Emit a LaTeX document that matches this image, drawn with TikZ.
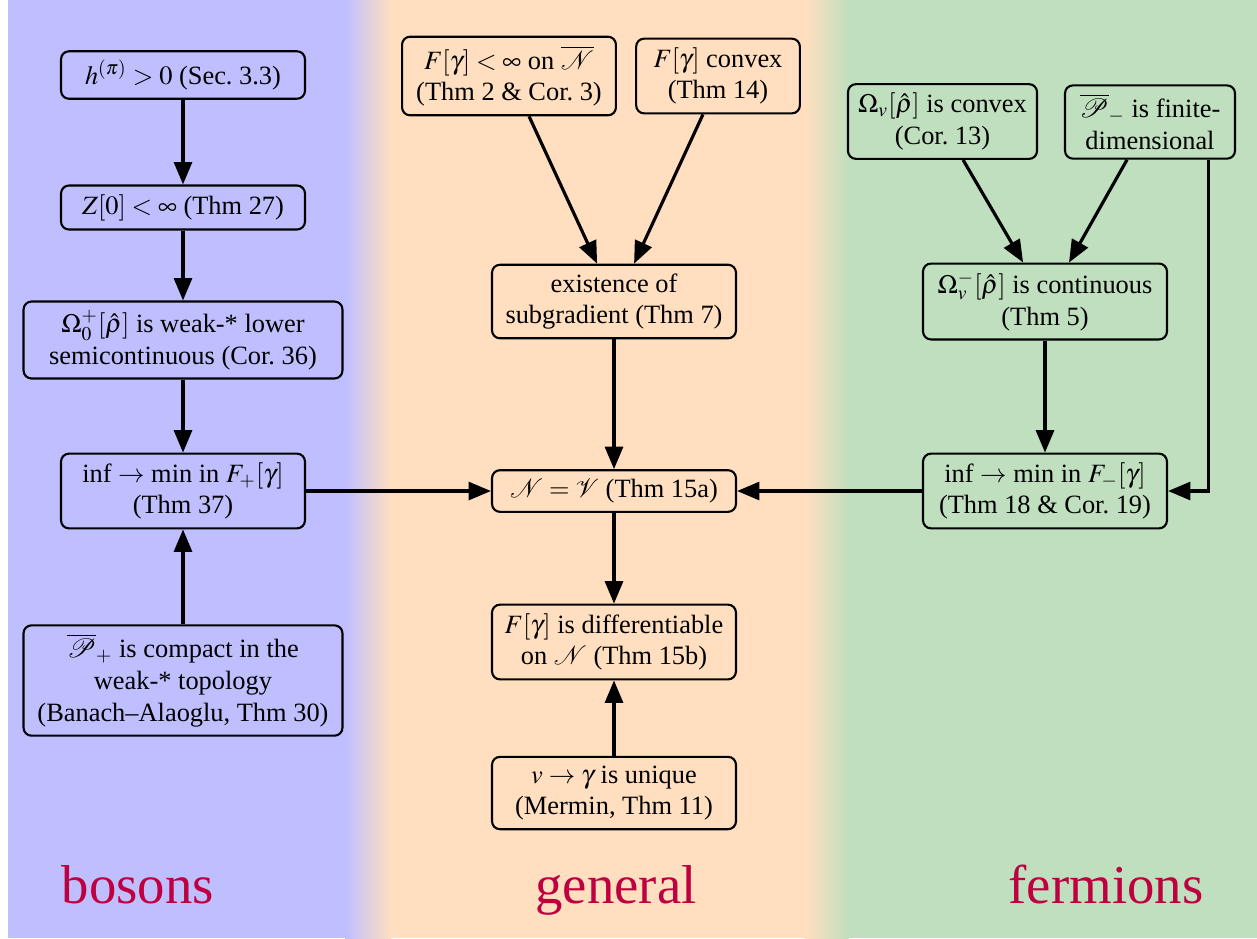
\documentclass[tikz,border=0pt]{standalone}
\usepackage{amsmath}
\usepackage{mathptmx}
\usepackage{fontspec}
\setmainfont{Liberation Serif}
\usetikzlibrary{arrows.meta}

\tikzset{
  thm/.style={draw, thick, rounded corners=3pt, align=center,
              minimum width=92.4pt, minimum height=15.5pt},
  arr/.style={-{Triangle[length=8.5pt,width=6.8pt]}, line width=1.2pt}
}

\begin{document}
\begin{tikzpicture}[
    x=0.3788pt, y=-0.3788pt]

      % background
      \useasboundingbox (0,0) rectangle (1257,938);
      \fill[white] (0,0) rectangle (1257,938);
      \fill[blue!25] (8,0) rectangle (346,938);
      \shade[left color=blue!25, right color=orange!25] (345,0) rectangle (391,938);
      \fill[orange!25] (390,0) rectangle (806,938);
      \shade[left color=orange!25, right color=green!50!black!25] (805,0) rectangle (849,938);
      \fill[green!50!black!25] (848,0) rectangle (1257,938);

      % bosons
      \node[thm] (hpos) at (183,75) {$h^{(\pi)} > 0$ (Sec.~3.3)};
      \node[thm] (Zfin) at (183,207.5) {$Z[0] < \infty$ (Thm~27)};
      \node[thm, minimum width=120.8pt] (Omlsc) at (183,340)
        {$\Omega_0^+[\hat\rho]$ is weak-* lower\\semicontinuous (Cor.~36)};
      \node[thm] (infp) at (183,491) {inf $\to$ min in $F_+[\gamma]$\\(Thm~37)};
      \node[thm, minimum width=120.8pt] (Pcpt) at (183,680.5)
        {$\overline{\mathcal{P}}_+$ is compact in the\\weak-* topology\\(Banach--Alaoglu, Thm~30)};

      % general
      \node[thm, minimum width=81pt] (Ffin) at (509,76)
        {$F[\gamma] < \infty$ on $\overline{\mathcal{N}}$\\(Thm~2 \& Cor.~3)};
      \node[thm, minimum width=62pt] (Fconv) at (718,76) {$F[\gamma]$ convex\\(Thm~14)};
      \node[thm] (subg) at (614,301.5) {existence of\\subgradient (Thm~7)};
      \node[thm] (NV) at (614,491) {$\mathcal{N} = \mathcal{V}$ (Thm~15a)};
      \node[thm] (diff) at (614,642) {$F[\gamma]$ is differentiable\\on $\mathcal{N}$ (Thm~15b)};
      \node[thm] (uniq) at (614,793) {$v \to \gamma$ is unique\\(Mermin, Thm~11)};

      % fermions
      \node[thm, minimum width=71.6pt] (Omconv) at (942.5,121.5)
        {$\Omega_v[\hat\rho]$ is convex\\(Cor.~13)};
      \node[thm, minimum width=64.4pt] (Pdim) at (1150,122)
        {$\overline{\mathcal{P}}_-$ is finite-\\dimensional};
      \node[thm] (Omcont) at (1045,301.5) {$\Omega_v^-[\hat\rho]$ is continuous\\(Thm~5)};
      \node[thm] (infm) at (1045,491) {inf $\to$ min in $F_-[\gamma]$\\(Thm~18 \& Cor.~19)};

      {\huge
      \node[purple, anchor=base] (bos) at (138,903) {bosons};
      \node[purple, anchor=base] (gen) at (616,903) {general};
      \node[purple, anchor=base] (fer) at (1106,903) {fermions};
      }

      % bosons
      \draw[arr] (hpos.south) -- (Zfin.north);
      \draw[arr] (Zfin.south) -- (Omlsc.north);
      \draw[arr] (Omlsc.south) -- (infp.north);
      \draw[arr] (Pcpt.north) -- (infp.south);
      \draw[arr] (infp.east) -- (NV.west);

      % general
      \draw[arr] ([xshift=7.6pt]Ffin.south) -- ([xshift=-6.4pt]subg.north);
      \draw[arr] ([xshift=-5.7pt]Fconv.south) -- ([xshift=7.6pt]subg.north);
      \draw[arr] (subg.south) -- (NV.north);
      \draw[arr] (NV.south) -- (diff.north);
      \draw[arr] (uniq.north) -- (diff.south);

      % fermions
      \draw[arr] ([xshift=7.8pt]Omconv.south) -- ([xshift=-8.3pt]Omcont.north);
      \draw[arr] ([xshift=-8.7pt]Pdim.south) -- ([xshift=9.1pt]Omcont.north);
      \draw[arr] (Omcont.south) -- (infm.north);
      \draw[arr] ([xshift=22pt]Pdim.south) |- (infm.east);
      \draw[arr] (infm.west) -- (NV.east);

    \end{tikzpicture}
\end{document}
